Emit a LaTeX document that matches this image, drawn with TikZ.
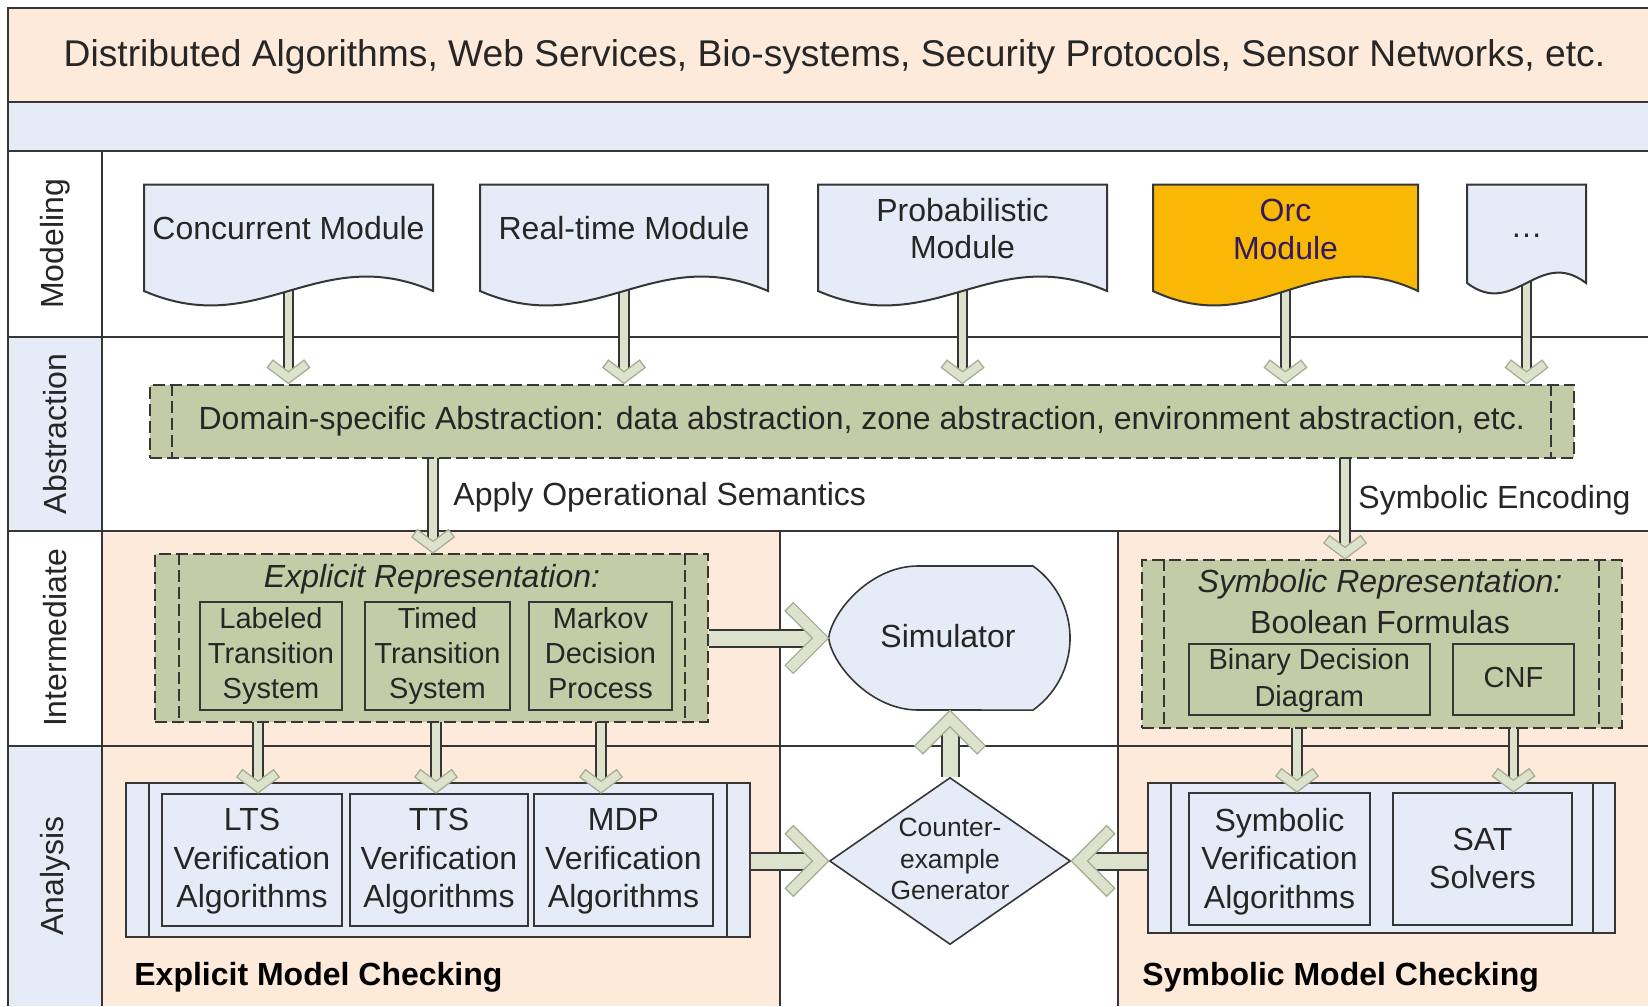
\documentclass[tikz,border=0pt]{standalone}
\usepackage{fontspec}
\setmainfont{Liberation Sans}
\usetikzlibrary{calc,shapes.geometric}

\definecolor{peach}{HTML}{FDEADA}
\definecolor{paleblue}{HTML}{E5ECF7}
\definecolor{boxgreen}{HTML}{C4CCA7}
\definecolor{arrowgreen}{HTML}{DCE2CB}
\definecolor{orcorange}{HTML}{F9B805}
\definecolor{orcink}{HTML}{33195F}
\definecolor{ink}{HTML}{262626}
\definecolor{rule}{HTML}{363636}
\definecolor{chevedge}{HTML}{A4AB90}

\pgfdeclarelayer{bg}
\pgfdeclarelayer{shaftlayer}
\pgfdeclarelayer{chevlayer}
\pgfsetlayers{bg,shaftlayer,main,chevlayer}

% document shape with a wavy lower edge: x1, x2, top, base, amplitude, style
\newcommand{\docpath}[6]{%
  \pgfmathsetmacro\wvA{#1+0.4*(#2-#1)}%
  \pgfmathsetmacro\wvB{#1+0.6*(#2-#1)}%
  \pgfmathsetmacro\wvLo{#4+#5}%
  \pgfmathsetmacro\wvHi{#4-#5}%
  \path[#6] (#1,#3) -- (#2,#3) -- (#2,#4) .. controls (\wvB,\wvHi) and (\wvA,\wvLo) .. (#1,#4) -- cycle;%
}

% outlined shaft (under the shapes) with an open chevron head (over the shapes):
% start, tip, heading, shaft gap, arm length, arm angle, arm thickness
\newcommand{\blkarrow}[7]{%
  \pgfmathsetmacro\baBack{#3+180}%
  \pgfmathsetmacro\baArmA{#3+180-#6}%
  \pgfmathsetmacro\baArmB{#3+180+#6}%
  \pgfmathsetmacro\baCapA{#3+270-#6}%
  \pgfmathsetmacro\baCapB{#3+90+#6}%
  \pgfmathsetmacro\baIn{#7/sin(#6)}%
  \pgfmathsetmacro\baEnd{#7/sin(#6)-2}%
  \coordinate (tipnow) at #2;%
  \begin{pgfonlayer}{shaftlayer}%
    \draw[shaft, double distance=#4] #1 -- ($(tipnow)+(\baBack:\baEnd)$);%
  \end{pgfonlayer}%
  \begin{pgfonlayer}{chevlayer}%
    \filldraw[chev] (tipnow) -- ($(tipnow)+(\baArmA:#5)$)
      -- ($(tipnow)+(\baArmA:#5)+(\baCapA:#7)$)
      -- ($(tipnow)+(\baBack:\baIn)$)
      -- ($(tipnow)+(\baArmB:#5)+(\baCapB:#7)$)
      -- ($(tipnow)+(\baArmB:#5)$) -- cycle;%
  \end{pgfonlayer}%
}
\newcommand{\thinarrow}[2]{\blkarrow{#1}{#2}{90}{3.6pt}{26.5}{53}{9.3}}
\newcommand{\widearrow}[3]{\blkarrow{#1}{#2}{#3}{7.5pt}{50}{45}{11.5}}

\begin{document}
\begin{tikzpicture}[x=0.5pt, y=-0.5pt, line join=miter,
  every node/.style={text=ink},
  sz/.style 2 args={minimum width=#1*0.5pt, minimum height=#2*0.5pt},
  struts/.style={execute at begin node=\strut, execute at end node=\strut},
  gridline/.style={draw=rule, line width=1pt},
  f16/.style={font=\fontsize{16pt}{19.2pt}\selectfont},
  fit16/.style={font=\fontsize{16pt}{19.2pt}\selectfont\itshape},
  fbold/.style={font=\fontsize{16pt}{19.2pt}\selectfont\bfseries, text=black, anchor=west, inner sep=0pt},
  lanelabel/.style={rotate=90, font=\fontsize{16pt}{19.2pt}\selectfont},
  modtext/.style={font=\fontsize{16pt}{18.9pt}\selectfont, align=center, inner sep=0pt, struts},
  docshape/.style={draw=rule, line width=1pt, fill=paleblue},
  dshbox/.style={draw=rule, line width=1pt, dash pattern=on 6pt off 2.5pt, fill=boxgreen, inner sep=0pt},
  dshline/.style={draw=rule, line width=1pt, dash pattern=on 6pt off 2.5pt},
  greenbox/.style={draw=rule, line width=1pt, fill=boxgreen, inner sep=0pt},
  gtext/.style={inner sep=0pt, align=center, struts, font=\fontsize{14.5pt}{17.5pt}\selectfont},
  procbox/.style={draw=rule, line width=1pt, fill=paleblue, inner sep=0pt},
  procline/.style={draw=rule, line width=1pt},
  algbox/.style={draw=rule, line width=1pt, fill=paleblue, inner sep=0pt},
  atext/.style={inner sep=0pt, align=center, struts, font=\fontsize{16pt}{19.3pt}\selectfont},
  shaft/.style={draw=rule, line width=1pt, double=arrowgreen},
  chev/.style={fill=arrowgreen, draw=chevedge, line width=0.6pt}]

\useasboundingbox (0,0) rectangle (1648,1006);

% ---------- lanes ----------
\begin{pgfonlayer}{bg}
  \fill[white] (0,0) rectangle (1648,1006);
  \fill[peach] (8,8) rectangle (1648,102);
  \fill[paleblue] (8,102) rectangle (1648,151);
  \fill[paleblue] (8,337) rectangle (102,531);
  \fill[paleblue] (8,746) rectangle (102,1006);
  \fill[peach] (102,531) rectangle (780,1006);
  \fill[peach] (1118,531) rectangle (1648,1006);
  \draw[gridline] (1648,8) -- (8,8) -- (8,1006);
  \draw[gridline] (8,102) -- (1648,102);
  \draw[gridline] (8,151) -- (1648,151);
  \draw[gridline] (8,337) -- (1648,337);
  \draw[gridline] (8,531) -- (1648,531);
  \draw[gridline] (8,746) -- (1648,746);
  \draw[gridline] (102,151) -- (102,1006);
  \draw[gridline] (780,531) -- (780,1006);
  \draw[gridline] (1118,531) -- (1118,1006);
\end{pgfonlayer}

\node[font=\fontsize{18.6pt}{22pt}\selectfont] (domains) at (834.5,57)
  {Distributed Algorithms, Web Services, Bio-systems, Security Protocols, Sensor Networks, etc.};

\node[lanelabel] (lmod) at (55,244) {Modeling};
\node[lanelabel] (labs) at (55,434) {Abstraction};
\node[lanelabel] (lint) at (55,638) {Intermediate};
\node[lanelabel] (lana) at (55,876) {Analysis};

% ---------- modules ----------
\docpath{144}{433}{184.5}{291}{50}{docshape}
\node[modtext] (conc) at (288.5,232) {Concurrent Module};
\docpath{480}{768}{184.5}{291}{50}{docshape}
\node[modtext] (rtm) at (624,232) {Real-time Module};
\docpath{818}{1107}{184.5}{291}{50}{docshape}
\node[modtext] (prob) at (962.5,234) {Probabilistic\\Module};
\docpath{1153}{1418}{184.5}{291}{50}{docshape, fill=orcorange}
\node[modtext, text=orcink] (orc) at (1285.5,235) {Orc\\Module};
\docpath{1467}{1586}{184.5}{283}{36}{docshape}
\node[modtext] (more) at (1526.5,230) {\ldots};

% ---------- abstraction ----------
\node[dshbox, sz={1424.5}{73}, f16] (abs) at (861.75,421)
  {Domain-specific Abstraction: data abstraction, zone abstraction, environment abstraction, etc.};
\draw[dshline] ($(abs.north west)+(23.5,0)$) -- ($(abs.south west)+(23.5,0)$);
\draw[dshline] ($(abs.north east)+(-24,0)$) -- ($(abs.south east)+(-24,0)$);

\node[f16, anchor=west, inner sep=0pt] (opsem) at (453,497) {Apply Operational Semantics};
\node[f16, anchor=west, inner sep=0pt] (symenc) at (1358,500) {Symbolic Encoding};

% ---------- explicit side ----------
\node[dshbox, sz={553}{168}] (exrep) at (431.5,638) {};
\draw[dshline] ($(exrep.north west)+(24.5,0)$) -- ($(exrep.south west)+(24.5,0)$);
\draw[dshline] ($(exrep.north east)+(-24,0)$) -- ($(exrep.south east)+(-24,0)$);
\node[fit16] (extitle) at (432,579) {Explicit Representation:};
\node[greenbox, sz={142}{108}] (lts) at (271,656) {};
\node[gtext] (ltstxt) at ($(lts.center)+(0,2)$) {Labeled\\Transition\\System};
\node[greenbox, sz={145}{108}] (tts) at (437.5,656) {};
\node[gtext] (ttstxt) at ($(tts.center)+(0,2)$) {Timed\\Transition\\System};
\node[greenbox, sz={143}{108}] (mdp) at (600.5,656) {};
\node[gtext] (mdptxt) at ($(mdp.center)+(0,2)$) {Markov\\Decision\\Process};

\node[procbox, sz={624}{154}] (exan) at (438,860) {};
\draw[procline] ($(exan.north west)+(24,0)$) -- ($(exan.south west)+(24,0)$);
\draw[procline] ($(exan.north east)+(-24,0)$) -- ($(exan.south east)+(-24,0)$);
\node[algbox, sz={180}{132}] (ltsv) at (252,860) {};
\node[atext] (ltsvtxt) at ($(ltsv.center)+(0,4)$) {LTS\\Verification\\Algorithms};
\node[algbox, sz={178}{132}] (ttsv) at (439,860) {};
\node[atext] (ttsvtxt) at ($(ttsv.center)+(0,4)$) {TTS\\Verification\\Algorithms};
\node[algbox, sz={179}{132}] (mdpv) at (623.5,860) {};
\node[atext] (mdpvtxt) at ($(mdpv.center)+(0,4)$) {MDP\\Verification\\Algorithms};
\node[fbold] (emc) at (134,977) {Explicit Model Checking};

% ---------- simulator and counterexample generator ----------
\node[sz={241}{144}, inner sep=0pt] (sim) at (949.5,638) {};
\path[draw=rule, line width=0.8pt, fill=paleblue] (sim.west)
  .. controls (832,612) and (870,566) .. (918,566) -- (1033,566)
  arc[start angle=-54.4, end angle=54.4, radius=88.6] -- (918,710)
  .. controls (870,710) and (832,664) .. (sim.west) -- cycle;
\node[f16] (simtxt) at (948,636) {Simulator};

\node[shape=diamond, draw=rule, line width=0.8pt, fill=paleblue, sz={241}{167}, inner sep=0pt] (ceg) at (950,861) {};
\node[font=\fontsize{13.2pt}{15.8pt}\selectfont, align=center, inner sep=0pt] (cegtxt) at (950,859) {Counter-\\example\\Generator};

% ---------- symbolic side ----------
\node[dshbox, sz={479.6}{168}] (symrep) at (1381.8,644) {};
\draw[dshline] ($(symrep.north west)+(23,0)$) -- ($(symrep.south west)+(23,0)$);
\draw[dshline] ($(symrep.north east)+(-23.5,0)$) -- ($(symrep.south east)+(-23.5,0)$);
\node[fit16] (symtitle) at (1380,584) {Symbolic Representation:};
\node[f16] (boolf) at (1380,622) {Boolean Formulas};
\node[greenbox, sz={240.6}{71}] (bdd) at (1309.3,679.5) {};
\node[gtext, font=\fontsize{14.5pt}{18.3pt}\selectfont] (bddtxt) at ($(bdd.center)+(0,3.5)$) {Binary Decision\\Diagram};
\node[greenbox, sz={121}{71}] (cnf) at (1513.5,679.5) {};
\node[gtext] (cnftxt) at ($(cnf.center)+(0,1)$) {CNF};

\node[procbox, sz={467}{150}] (syman) at (1381.5,858) {};
\draw[procline] ($(syman.north west)+(24,0)$) -- ($(syman.south west)+(24,0)$);
\draw[procline] ($(syman.north east)+(-23,0)$) -- ($(syman.south east)+(-23,0)$);
\node[algbox, sz={181}{132}] (symv) at (1279.5,859) {};
\node[atext] (symvtxt) at ($(symv.center)+(0,5)$) {Symbolic\\Verification\\Algorithms};
\node[algbox, sz={179}{132}] (sat) at (1482.5,859) {};
\node[atext] (sattxt) at ($(sat.center)+(0,5)$) {SAT\\Solvers};
\node[fbold] (smc) at (1142,977) {Symbolic Model Checking};

% ---------- connectors ----------
\thinarrow{(conc)}{(abs.north -| conc)}
\thinarrow{(rtm)}{(abs.north -| rtm)}
\thinarrow{(prob)}{(abs.north -| prob)}
\thinarrow{(orc)}{(abs.north -| orc)}
\thinarrow{(more)}{(abs.north -| more)}
\thinarrow{(abs.center -| 433,0)}{(exrep.north -| 433,0)}
\thinarrow{(abs.center -| 1345,0)}{(symrep.north -| 1345,0)}
\thinarrow{(lts.center -| 258,0)}{(ltsv.north -| 258,0)}
\thinarrow{(tts.center -| 436,0)}{(ttsv.north -| 436,0)}
\thinarrow{(mdp.center -| 601,0)}{(mdpv.north -| 601,0)}
\thinarrow{(bdd.center -| 1297,0)}{(symv.north -| 1297,0)}
\thinarrow{(cnf)}{(sat.north -| cnf)}
\widearrow{(exrep.east)}{(sim.west)}{0}
\widearrow{(ceg.north)}{(sim.south -| ceg.north)}{-90}
\widearrow{(exan.east |- ceg.west)}{(ceg.west)}{0}
\widearrow{(syman.west |- ceg.east)}{(ceg.east)}{180}
\end{tikzpicture}
\end{document}
